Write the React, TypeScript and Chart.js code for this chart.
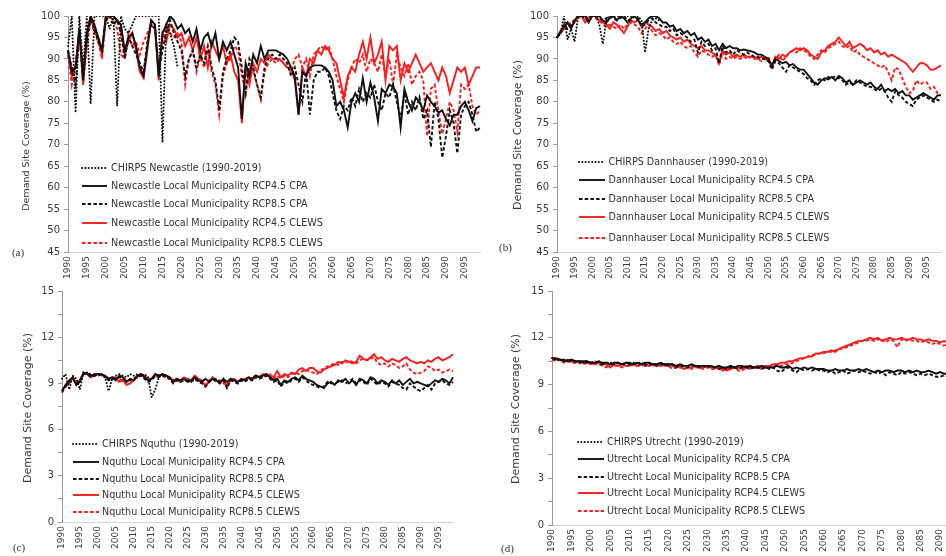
import React, { useEffect, useRef } from "react";
import { Chart, registerables } from "chart.js";
Chart.register(...registerables);

const years: string[] = Array.from({ length: 110 }, (_, i) => String(1990 + i));

// ---------- Panel (a) Newcastle ----------
const aChirps = [93, 100, 77.5, 100, 88, 100, 79.5, 100, 100, 100, 100, 97, 100, 79, 100, 97, 96, 98, 100, 100, 100, 100, 100, 100, 100, 70.5, 98, 96, 93, 88];
const aBlack45 = [92, 87, 88, 97, 85, 96, 100, 98, 95, 92, 100, 100, 100, 99, 98, 92, 95, 96, 93, 88, 86, 93, 99, 98, 86, 96, 98, 100, 99, 97, 98, 96, 97, 94, 97, 92, 95, 96, 93, 96, 90, 94, 92, 94, 91, 88, 76, 89, 86, 91, 89, 93, 90, 92, 92, 92, 91.5, 91, 90, 88, 86, 77, 87, 86, 88, 88.5, 88.5, 88.5, 88, 87, 85, 79, 80, 78, 74, 80, 82, 80, 85.5, 80, 84.5, 81, 75.5, 83, 82, 84, 83.5, 82, 74, 83, 80, 78, 81, 80, 78, 81.5, 80, 79, 77.5, 78, 76, 74.5, 77, 77, 79, 80, 78, 75.5, 78.5, 79];
const aBlack85 = [92, 88, 84, 97, 86, 95, 99, 97, 94, 92, 99, 100, 98, 99, 96, 90, 95, 93, 91, 89, 87, 94, 98, 97, 87, 92, 96, 99, 96, 94, 92, 86, 90, 92, 88, 91, 89, 93, 88, 85, 78, 87, 90, 92, 95, 94, 88, 82, 90, 88, 84, 81, 88, 90, 91, 90, 91, 90, 89, 86, 88, 84, 80, 87, 77, 85, 87, 87, 88, 86, 82, 78, 76, 79, 78, 81, 79, 83, 80, 82, 81, 84, 80, 78, 82, 81, 84, 80, 76, 82, 77, 80, 78, 81, 76, 78, 69.5, 80, 76, 67, 72, 78, 75, 68, 77, 79, 80, 77, 73, 74];
const aRed45 = [92, 86, 88, 97, 84, 96, 100, 97, 95, 91, 100, 100, 100, 99, 98, 91, 94, 96, 92, 87, 85.5, 92, 99, 98, 85, 96, 94, 98, 97, 95, 96, 93, 95, 92, 95, 90, 93, 88, 94, 92, 90, 93, 89, 91, 87, 85, 75, 88, 84, 89, 87, 90, 89, 91, 90, 90, 90, 89, 88, 88, 85, 77, 88, 86, 90, 89, 92, 91, 93, 92, 90, 89, 85, 81, 86, 88, 87, 91, 94, 90, 95, 89, 91, 94, 85, 93, 92, 93, 85, 89, 87, 89, 91, 89, 87, 88, 89, 87, 85, 88, 86, 82, 85, 88, 87, 88, 84, 86, 88, 88];
const aRed85 = [91, 84, 89, 96, 84, 93, 99, 96, 94, 90, 99, 100, 99, 97, 91, 90, 96, 93, 94, 91, 94, 96, 98, 97, 88, 94, 98, 96, 95, 96, 94, 84, 90, 92, 87, 91, 88, 92, 87, 84, 77, 86, 89, 90, 93, 92, 86, 82, 88, 87, 84, 80.5, 87, 89, 90, 89, 90, 89, 88, 87, 90, 91, 88, 90, 86, 91, 92, 93, 92, 93, 90, 86, 83, 80, 85, 88, 90, 89, 91, 87, 90, 89, 87, 91, 86, 90, 84, 91, 88, 86, 89, 84, 86, 87, 85, 72, 83, 84, 78, 72.5, 76, 80, 78, 73, 84, 83, 84, 79, 77, 78];

// ---------- Panel (b) Dannhauser ----------
const bChirps = [95, 96, 100, 94.5, 97, 94, 100, 100, 100, 100, 100, 100, 98, 93.5, 99, 100, 100, 100, 100, 100, 100, 100, 100, 100, 99, 91.5, 97, 99, 99.5, 99];
const bBlack45 = [95, 96.5, 97.5, 98.5, 97, 99, 100, 100, 100, 98.5, 100, 100, 100, 99, 98.5, 99.5, 100, 99, 100, 99.5, 98.5, 99.5, 100, 99, 98, 98.5, 99.5, 100, 100, 99.5, 98.5, 98.5, 97.5, 97.8, 96.5, 97, 96, 96.5, 95.5, 96, 94.5, 95, 94, 94.5, 93, 93.5, 92, 93.5, 92.5, 93, 92.5, 92.5, 92, 92.2, 92, 91.8, 91.5, 91, 91, 90.5, 90, 88.5, 90, 89.5, 89, 89.3, 88.5, 88.8, 88, 87.5, 87.5, 86.5, 85.5, 84.5, 84, 85, 85.5, 85.2, 85.8, 85, 86, 85.5, 84.5, 85, 84, 84.5, 85, 84.5, 84, 84.5, 83.5, 83, 84, 82.5, 83, 82.5, 83, 82, 82.5, 81.5, 81.5, 80.5, 81, 81.5, 82, 81.5, 81, 80.5, 81.5, 81.5];
const bBlack85 = [95, 96, 98, 97, 98, 99, 100, 100, 99.5, 99, 100, 100, 99.5, 99, 99.5, 100, 99.5, 99, 99.5, 100, 99, 99, 100, 99.5, 97.5, 98, 99, 99.5, 98.5, 98, 97.5, 97.5, 96.5, 97, 95.5, 96, 95.5, 95, 94, 94.5, 91.5, 94, 93, 93.5, 92, 92.5, 89, 93, 91.5, 92, 91, 92, 91.5, 91, 91.5, 91, 90.5, 90.5, 90, 90, 89.5, 87.5, 89.5, 89, 88, 87, 88.5, 88, 87.5, 87, 86.5, 85.5, 85, 84, 85, 85.5, 85, 85.8, 85.5, 86, 85.5, 85, 84, 84.5, 84, 85, 84.5, 84, 83.5, 83.5, 83, 82.5, 83, 82.5, 81, 80, 82.5, 81.5, 81, 80, 79.5, 79, 80.5, 81, 81.5, 81, 80.5, 80, 80.5, 80];
const bRed45 = [95, 96, 97, 98.5, 97.5, 98.5, 100, 100, 98.5, 99.5, 100, 100, 99, 98.5, 98, 97, 98.5, 98, 97, 96, 97.5, 99, 98.5, 99, 97.5, 98.5, 98, 97.5, 96.5, 97, 96, 96.5, 95.5, 95, 94.5, 95, 94, 94.5, 93.5, 93, 92.5, 93, 92, 92, 91.5, 91, 89, 92, 91, 91.5, 90.5, 91, 90.5, 91, 90.5, 90.5, 90.5, 90, 90.5, 90, 89.5, 88.5, 90.5, 90, 91, 90.5, 91.5, 92, 92.5, 92, 92.5, 92, 91, 90.5, 90, 91.5, 92, 93, 93.5, 94, 95, 94, 93, 94, 92.5, 93, 93.5, 93, 92, 92.5, 91.5, 92, 91, 91.5, 90.5, 91, 90.5, 90, 89.5, 89, 88, 87, 88, 89, 89, 88.5, 87.5, 87.5, 88, 88.5];
const bRed85 = [95, 96, 97.5, 98, 98.5, 99, 99.5, 100, 99, 100, 100, 99.5, 99, 98, 97.5, 98, 97.5, 97, 98, 97, 98, 98.5, 98, 97.5, 96, 97, 98, 96.5, 95.5, 96, 95.5, 94.5, 95, 94, 93.5, 94, 93, 92.5, 93, 91.5, 90.5, 92, 91.5, 91, 90.5, 91, 88.5, 91.5, 90, 90.5, 90, 90.5, 90, 90.5, 90, 90.5, 90, 90, 89.5, 90, 90.5, 88, 90, 91, 89.5, 90.5, 91.5, 92, 91.5, 92.5, 92, 91.5, 90.5, 90, 91, 92, 91.5, 92.5, 93, 93.5, 94, 93, 92.5, 93, 91.5, 92, 91, 90.5, 90, 89.5, 89, 88.5, 88, 88.5, 87, 85, 88, 87.5, 85.5, 83.5, 82, 82.5, 85, 84, 84.5, 84.5, 83, 83.5, 82, 81.5];

// ---------- Panel (c) Nquthu ----------
const cChirps = [9.3, 9.6, 8.6, 9.5, 9.3, 8.6, 9.7, 9.7, 9.6, 9.5, 9.6, 9.6, 9.4, 8.5, 9.3, 9.5, 9.6, 9.5, 9.4, 9.6, 9.5, 9.6, 9.5, 9.6, 9.4, 8.1, 8.6, 9.4, 9.6, 9.5];
const cBlack45 = [8.5, 8.9, 9.2, 9.4, 8.9, 9.1, 9.7, 9.6, 9.5, 9.6, 9.6, 9.6, 9.5, 9.3, 9.4, 9.2, 9.5, 9.4, 9.1, 9.3, 9.2, 9.5, 9.6, 9.4, 9.2, 9.3, 9.6, 9.5, 9.6, 9.5, 9.4, 9.1, 9.3, 9.2, 9.3, 9.1, 9.2, 9.4, 9.2, 9.1, 9.3, 9.1, 9.3, 9.2, 9.0, 9.3, 9.1, 9.3, 9.2, 9.1, 9.3, 9.2, 9.4, 9.3, 9.5, 9.4, 9.5, 9.6, 9.4, 9.2, 9.3, 8.9, 9.2, 9.1, 9.3, 9.4, 9.2, 9.5, 9.3, 9.2, 9.1, 8.9, 8.8, 8.7, 9.0, 9.1, 8.9, 9.2, 9.1, 9.3, 9.0, 9.2, 8.9, 9.3, 9.2, 9.0, 9.4, 9.3, 9.0, 9.2, 9.1, 8.9, 9.2, 9.0, 9.2, 8.9, 9.1, 9.3, 9.0, 9.1, 9.0, 8.9, 8.8, 9.0, 9.2, 9.1, 9.3, 9.2, 9.0, 9.4];
const cBlack85 = [8.4, 8.8, 9.1, 9.3, 9.0, 9.2, 9.6, 9.6, 9.4, 9.5, 9.5, 9.6, 9.4, 9.2, 9.3, 9.3, 9.4, 9.3, 9.2, 9.2, 9.3, 9.4, 9.5, 9.3, 9.1, 9.2, 9.5, 9.4, 9.5, 9.4, 9.3, 9.0, 9.2, 9.1, 9.2, 9.2, 9.1, 9.3, 9.1, 9.0, 8.8, 9.1, 9.2, 9.3, 9.1, 9.2, 8.7, 9.2, 9.1, 9.0, 9.2, 9.1, 9.3, 9.2, 9.4, 9.3, 9.4, 9.5, 9.3, 9.1, 9.2, 8.8, 9.1, 9.0, 9.2, 9.3, 9.1, 9.4, 9.2, 9.0, 8.9, 8.8, 8.7, 8.8, 9.1, 9.0, 9.0, 9.1, 9.2, 9.0, 9.1, 9.3, 9.0, 9.2, 9.1, 8.9, 9.3, 9.1, 8.9, 9.1, 9.0, 8.8, 9.1, 9.0, 8.9, 8.7, 8.6, 9.0, 8.8, 8.6, 8.5, 8.7, 8.9, 8.6, 9.0, 9.1, 9.2, 9.0, 8.9, 9.1];
const cRed45 = [8.6, 8.8, 9.0, 9.4, 8.9, 9.2, 9.6, 9.7, 9.4, 9.5, 9.6, 9.6, 9.5, 9.3, 9.4, 9.3, 9.1, 9.2, 8.9, 9.0, 9.2, 9.4, 9.6, 9.5, 9.3, 9.3, 9.6, 9.5, 9.6, 9.5, 9.4, 9.2, 9.3, 9.2, 9.4, 9.3, 9.2, 9.5, 9.3, 9.2, 8.8, 9.1, 9.4, 9.2, 9.0, 9.3, 8.8, 9.2, 9.3, 9.1, 9.2, 9.3, 9.4, 9.2, 9.5, 9.4, 9.6, 9.6, 9.5, 9.4, 9.8, 9.4, 9.6, 9.5, 9.7, 9.6, 9.9, 10.0, 9.8, 10.0, 10.0, 9.8, 9.7, 9.9, 10.0, 10.1, 10.2, 10.4, 10.3, 10.5, 10.4, 10.3, 10.4, 10.8, 10.6, 10.5, 10.7, 10.9, 10.6, 10.7, 10.5, 10.4, 10.6, 10.5, 10.4, 10.6, 10.7, 10.5, 10.4, 10.3, 10.4, 10.3, 10.5, 10.4, 10.6, 10.7, 10.5, 10.6, 10.7, 10.9];
const cRed85 = [8.5, 8.9, 9.1, 9.3, 9.0, 9.3, 9.6, 9.7, 9.5, 9.5, 9.6, 9.5, 9.4, 9.3, 9.3, 9.4, 9.2, 9.3, 9.1, 9.2, 9.3, 9.5, 9.6, 9.4, 9.2, 9.3, 9.5, 9.4, 9.5, 9.4, 9.3, 9.1, 9.2, 9.1, 9.3, 9.2, 9.1, 9.4, 9.2, 9.1, 8.9, 9.2, 9.3, 9.1, 9.2, 9.0, 8.9, 9.3, 9.2, 9.0, 9.3, 9.2, 9.3, 9.4, 9.5, 9.5, 9.4, 9.5, 9.6, 9.3, 9.5, 9.3, 9.5, 9.4, 9.6, 9.7, 9.6, 9.8, 9.9, 9.8, 9.7, 9.6, 9.8, 10.0, 10.1, 10.2, 10.3, 10.2, 10.4, 10.3, 10.5, 10.4, 10.3, 10.5, 10.6, 10.5, 10.6, 10.7, 10.3, 10.2, 10.3, 10.1, 10.3, 10.2, 10.0, 10.1, 10.3, 9.9, 9.7, 9.6, 9.7, 9.8, 10.1, 10.0, 9.8, 9.9, 9.7, 9.8, 9.9, 9.8];

// ---------- Panel (d) Utrecht ----------
const dChirps = [10.7, 10.6, 10.6, 10.5, 10.6, 10.5, 10.5, 10.5, 10.4, 10.5, 10.4, 10.4, 10.5, 10.3, 10.4, 10.4, 10.4, 10.4, 10.3, 10.4, 10.4, 10.3, 10.4, 10.4, 10.3, 10.4, 10.3, 10.3, 10.4, 10.3];
const dBlack45 = [10.7, 10.7, 10.6, 10.6, 10.5, 10.6, 10.5, 10.5, 10.5, 10.5, 10.4, 10.4, 10.5, 10.4, 10.4, 10.3, 10.4, 10.4, 10.3, 10.4, 10.4, 10.3, 10.4, 10.3, 10.4, 10.4, 10.3, 10.3, 10.4, 10.3, 10.3, 10.3, 10.2, 10.3, 10.2, 10.2, 10.3, 10.2, 10.2, 10.2, 10.2, 10.2, 10.1, 10.2, 10.1, 10.1, 10.2, 10.1, 10.2, 10.2, 10.1, 10.2, 10.1, 10.1, 10.2, 10.1, 10.1, 10.1, 10.2, 10.1, 10.1, 10.2, 10.0, 10.1, 10.0, 10.1, 10.0, 10.1, 10.0, 10.0, 10.0, 9.9, 9.9, 10.0, 9.9, 9.9, 10.0, 9.9, 9.9, 10.0, 9.9, 10.0, 9.9, 9.8, 9.9, 9.8, 9.9, 9.9, 9.8, 9.9, 9.9, 9.8, 9.9, 9.8, 9.9, 9.8, 9.8, 9.9, 9.8, 9.7, 9.8, 9.7, 9.7, 9.8, 9.6, 9.7, 9.6, 9.7, 9.6, 9.6];
const dBlack85 = [10.7, 10.6, 10.6, 10.5, 10.6, 10.5, 10.5, 10.4, 10.5, 10.4, 10.4, 10.5, 10.4, 10.3, 10.4, 10.3, 10.3, 10.4, 10.3, 10.3, 10.3, 10.4, 10.3, 10.3, 10.2, 10.3, 10.3, 10.2, 10.3, 10.3, 10.2, 10.3, 10.1, 10.2, 10.2, 10.1, 10.2, 10.2, 10.1, 10.2, 10.1, 10.2, 10.1, 10.0, 10.1, 10.0, 10.1, 10.1, 10.0, 10.1, 10.1, 10.0, 10.1, 10.1, 10.0, 10.1, 10.0, 10.1, 9.9, 9.8, 10.0, 10.1, 9.9, 9.8, 10.0, 9.9, 10.0, 9.9, 10.0, 9.9, 9.9, 9.8, 9.9, 9.7, 9.8, 9.9, 9.7, 9.8, 9.9, 9.8, 9.9, 9.8, 9.7, 9.8, 9.7, 9.8, 9.6, 9.8, 9.7, 9.6, 9.8, 9.7, 9.8, 9.7, 9.6, 9.7, 9.6, 9.7, 9.6, 9.5, 9.5, 9.6, 9.5, 9.6, 9.5, 9.6, 9.5, 9.5, 9.4, 9.5];
const dRed45 = [10.7, 10.6, 10.6, 10.5, 10.5, 10.5, 10.4, 10.5, 10.4, 10.4, 10.4, 10.3, 10.4, 10.3, 10.3, 10.1, 10.3, 10.2, 10.3, 10.2, 10.2, 10.3, 10.2, 10.3, 10.3, 10.2, 10.3, 10.3, 10.2, 10.3, 10.3, 10.2, 10.1, 10.2, 10.0, 10.1, 10.1, 10.2, 10.1, 10.1, 10.2, 10.1, 10.1, 10.0, 10.0, 9.9, 10.0, 10.1, 10.1, 10.0, 10.2, 10.1, 10.1, 10.2, 10.1, 10.2, 10.2, 10.3, 10.3, 10.4, 10.4, 10.5, 10.5, 10.6, 10.7, 10.7, 10.8, 10.8, 11.0, 11.0, 11.1, 11.1, 11.2, 11.1, 11.3, 11.4, 11.5, 11.6, 11.7, 11.8, 11.8, 11.9, 12.0, 11.9, 12.0, 11.8, 11.9, 12.0, 11.9, 11.9, 12.0, 11.9, 11.9, 12.0, 11.9, 11.9, 11.8, 11.9, 11.8, 11.8, 11.7, 11.8, 11.7, 11.8, 11.7, 11.7, 11.6, 11.7, 11.6, 11.6];
const dRed85 = [10.6, 10.5, 10.6, 10.4, 10.5, 10.4, 10.4, 10.4, 10.3, 10.4, 10.3, 10.4, 10.3, 10.2, 10.1, 10.3, 10.2, 10.2, 10.1, 10.2, 10.2, 10.3, 10.2, 10.2, 10.3, 10.2, 10.2, 10.3, 10.2, 10.2, 10.2, 10.0, 10.1, 10.1, 10.0, 10.1, 10.0, 10.1, 10.1, 10.0, 10.1, 10.0, 10.0, 10.1, 9.9, 10.0, 10.0, 10.1, 9.9, 9.9, 10.1, 10.0, 10.1, 10.1, 10.0, 10.1, 10.1, 10.2, 10.2, 10.2, 10.3, 10.3, 10.4, 10.5, 10.6, 10.7, 10.8, 10.9, 10.9, 11.0, 11.0, 11.1, 11.1, 11.2, 11.3, 11.3, 11.4, 11.5, 11.6, 11.7, 11.8, 11.8, 11.9, 11.8, 11.9, 11.9, 11.7, 11.9, 11.8, 11.4, 11.9, 11.8, 11.9, 11.8, 11.8, 11.7, 11.8, 11.7, 11.6, 11.7, 11.6, 11.5, 11.6, 11.5, 11.5, 11.4, 11.5, 11.4, 11.4, 11.5];

const FONT = "'DejaVu Sans', sans-serif";
const RED = "#ff1a1a";
const BLACK = "#111111";

type Style = { color: string; dash: number[]; cap: "butt" | "round"; width: number };
const STYLES: Style[] = [
  { color: BLACK, dash: [0.1, 3.2], cap: "round", width: 2 },
  { color: BLACK, dash: [], cap: "butt", width: 1.9 },
  { color: BLACK, dash: [3.5, 2.2], cap: "butt", width: 1.9 },
  { color: RED, dash: [], cap: "butt", width: 1.9 },
  { color: RED, dash: [3.5, 2.2], cap: "butt", width: 1.9 },
];

type PanelDef = {
  left: number; top: number; width: number; height: number;
  area: { l: number; t: number; r: number; b: number };
  yMin: number; yMax: number; yStep: number; yLabelEvery: number;
  series: number[][];
  names: string[];
  title: { x: number; y: number; size: number };
  legend: { lineX: number; lineLen: number; textX: number; rows: number[]; size: number };
  tag: { text: string; x: number; y: number };
};

const PANELS: PanelDef[] = [
  {
    left: 0, top: 0, width: 484, height: 300,
    area: { l: 68, t: 16, r: 480, b: 252 },
    yMin: 45, yMax: 100, yStep: 5, yLabelEvery: 5,
    series: [aChirps, aBlack45, aBlack85, aRed45, aRed85],
    names: ["CHIRPS Newcastle (1990-2019)", "Newcastle Local Municipality RCP4.5 CPA", "Newcastle Local Municipality RCP8.5 CPA", "Newcastle Local Municipality RCP4.5 CLEWS", "Newcastle Local Municipality RCP8.5 CLEWS"],
    title: { x: 26, y: 146, size: 9.5 },
    legend: { lineX: 81, lineLen: 27, textX: 111, rows: [168.3, 185.7, 204, 223.3, 242.7], size: 9.6 },
    tag: { text: "(a)", x: 18, y: 252 },
  },
  {
    left: 484, top: 0, width: 462, height: 300,
    area: { l: 73, t: 16, r: 457, b: 252 },
    yMin: 45, yMax: 100, yStep: 5, yLabelEvery: 5,
    series: [bChirps, bBlack45, bBlack85, bRed45, bRed85],
    names: ["CHIRPS Dannhauser (1990-2019)", "Dannhauser Local Municipality RCP4.5 CPA", "Dannhauser Local Municipality RCP8.5 CPA", "Dannhauser Local Municipality RCP4.5 CLEWS", "Dannhauser Local Municipality RCP8.5 CLEWS"],
    title: { x: 517, y: 135, size: 11 },
    legend: { lineX: 578, lineLen: 28, textX: 608.5, rows: [162.3, 180, 199.3, 217.3, 237.7], size: 9.6 },
    tag: { text: "(b)", x: 505.5, y: 247 },
  },
  {
    left: 0, top: 270, width: 470, height: 286,
    area: { l: 62, t: 21, r: 453, b: 252 },
    yMin: 0, yMax: 15, yStep: 1.5, yLabelEvery: 3,
    series: [cChirps, cBlack45, cBlack85, cRed45, cRed85],
    names: ["CHIRPS Nquthu (1990-2019)", "Nquthu Local Municipality RCP4.5 CPA", "Nquthu Local Municipality RCP8.5 CPA", "Nquthu Local Municipality RCP4.5 CLEWS", "Nquthu Local Municipality RCP8.5 CLEWS"],
    title: { x: 27, y: 408, size: 11 },
    legend: { lineX: 72, lineLen: 28, textX: 102, rows: [444.3, 461.7, 479, 495.3, 512.3], size: 9.6 },
    tag: { text: "(c)", x: 19, y: 547 },
  },
  {
    left: 484, top: 270, width: 500, height: 286,
    area: { l: 68, t: 21, r: 491, b: 255 },
    yMin: 0, yMax: 15, yStep: 1.5, yLabelEvery: 3,
    series: [dChirps, dBlack45, dBlack85, dRed45, dRed85],
    names: ["CHIRPS Utrecht (1990-2019)", "Utrecht Local Municipality RCP4.5 CPA", "Utrecht Local Municipality RCP8.5 CPA", "Utrecht Local Municipality RCP4.5 CLEWS", "Utrecht Local Municipality RCP8.5 CLEWS"],
    title: { x: 515, y: 409, size: 11 },
    legend: { lineX: 577, lineLen: 28, textX: 607, rows: [442.3, 459.3, 476.7, 493.3, 510.7], size: 9.6 },
    tag: { text: "(d)", x: 507.5, y: 548 },
  },
];

function PanelChart({ p }: { p: PanelDef }) {
  const ref = useRef<HTMLCanvasElement | null>(null);
  useEffect(() => {
    if (!ref.current) return;
    const chart = new Chart(ref.current, {
      type: "line",
      data: {
        labels: years,
        datasets: p.series.map((s, i) => ({
          label: p.names[i],
          data: s,
          borderColor: STYLES[i].color,
          borderWidth: STYLES[i].width,
          borderDash: STYLES[i].dash,
          borderCapStyle: STYLES[i].cap,
          pointRadius: 0,
          tension: 0,
          fill: false,
        })),
      },
      options: {
        animation: false,
        responsive: false,
        maintainAspectRatio: false,
        layout: { padding: { left: 0, top: p.area.t, right: p.width - p.area.r, bottom: 0 } },
        plugins: { legend: { display: false }, tooltip: { enabled: false }, title: { display: false } },
        scales: {
          x: {
            type: "category",
            offset: false,
            grid: { display: false, drawTicks: false, tickLength: 0 },
            border: { display: true, color: "#d4d4d4", width: 1 },
            ticks: {
              autoSkip: false,
              maxRotation: 90,
              minRotation: 90,
              padding: 4,
              color: "#3a3a3a",
              font: { family: FONT, size: 9 },
              callback: (_v: any, i: number) => ((1990 + i) % 5 === 0 ? String(1990 + i) : null),
            },
            afterFit: (s: any) => { s.height = p.height - p.area.b; },
          },
          y: {
            min: p.yMin,
            max: p.yMax,
            grid: { display: true, drawOnChartArea: false, drawTicks: true, tickLength: 4, color: "#9a9a9a" },
            border: { display: true, color: "#9a9a9a", width: 1 },
            ticks: {
              stepSize: p.yStep,
              padding: 4,
              color: "#3a3a3a",
              font: { family: FONT, size: 10 },
              callback: (v: any) => {
                const n = Number(v);
                const q = n / p.yLabelEvery;
                return Math.abs(q - Math.round(q)) < 1e-6 ? String(Math.round(n)) : "";
              },
            },
            afterFit: (s: any) => { s.width = p.area.l; },
          },
        },
      },
    } as any);
    return () => chart.destroy();
  }, [p]);
  return (
    <canvas
      ref={ref}
      width={p.width}
      height={p.height}
      style={{ position: "absolute", left: p.left, top: p.top, width: p.width, height: p.height }}
    />
  );
}

function LegendSample({ i, len }: { i: number; len: number }) {
  const st = STYLES[i];
  return (
    <svg width={len} height={6} style={{ display: "block", flex: "none" }}>
      <line
        x1={1}
        y1={3}
        x2={len - 1}
        y2={3}
        stroke={st.color}
        strokeWidth={st.width}
        strokeDasharray={st.dash.length ? st.dash.join(" ") : undefined}
        strokeLinecap={st.cap}
      />
    </svg>
  );
}

function Overlay({ p }: { p: PanelDef }) {
  return (
    <>
      <div
        style={{
          position: "absolute", left: p.title.x, top: p.title.y,
          transform: "translate(-50%, -50%) rotate(-90deg)",
          whiteSpace: "nowrap", fontFamily: FONT, fontSize: p.title.size, color: "#3a3a3a", lineHeight: "1",
        }}
      >
        Demand Site Coverage (%)
      </div>
      {p.names.map((n, i) => (
        <React.Fragment key={i}>
          <div style={{ position: "absolute", left: p.legend.lineX, top: p.legend.rows[i] - 3 }}>
            <LegendSample i={i} len={p.legend.lineLen} />
          </div>
          <div
            style={{
              position: "absolute", left: p.legend.textX, top: p.legend.rows[i],
              transform: "translateY(-50%)", whiteSpace: "nowrap",
              fontFamily: FONT, fontSize: p.legend.size, color: "#333", lineHeight: "1",
            }}
          >
            {n}
          </div>
        </React.Fragment>
      ))}
      <div
        style={{
          position: "absolute", left: p.tag.x, top: p.tag.y, transform: "translate(-50%, -50%)",
          fontFamily: "'Liberation Serif', 'Times New Roman', serif", fontSize: 11, color: "#333", lineHeight: "1",
        }}
      >
        {p.tag.text}
      </div>
    </>
  );
}

export default function App() {
  return (
    <div
      style={{
        position: "absolute", left: 0, top: 0, width: 946, height: 556,
        overflow: "hidden", background: "#ffffff",
      }}
    >
      {PANELS.map((p, i) => (
        <PanelChart key={"c" + i} p={p} />
      ))}
      {PANELS.map((p, i) => (
        <Overlay key={"o" + i} p={p} />
      ))}
    </div>
  );
}
